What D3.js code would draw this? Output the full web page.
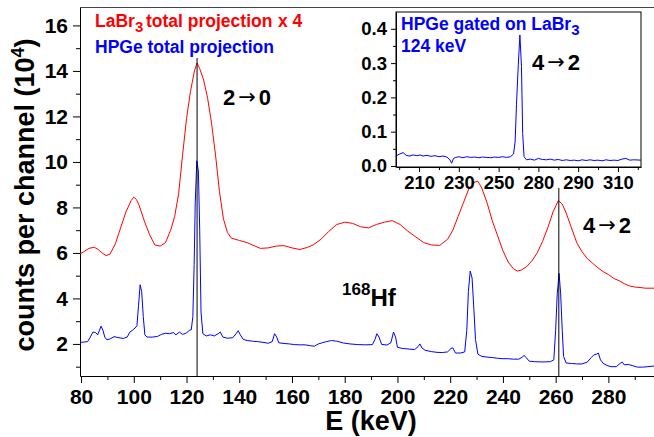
<!DOCTYPE html>
<html>
<head>
<meta charset="utf-8">
<script src="https://cdn.jsdelivr.net/npm/d3@7"></script>
<style>
  body { margin: 0; background: #fff; }
  svg { display: block; font-family: "Liberation Sans", Arial, sans-serif; font-weight: bold; }
</style>
</head>
<body>
<svg id="chart" width="654" height="437"></svg>
<script>
// LaBr3 total projection (x 4), counts in units of 10^4
const labr3Total = [
  [79.6,5.95],[81,6.05],[83,6.2],[85,6.25],[86.5,6.15],[88,6.0],[89.5,5.88],[91,5.95],[93,6.4],[95,7.1],
  [97,7.8],[99,8.3],[100,8.45],[101,8.35],[102,8.1],[104,7.4],[106,6.8],[108,6.35],[110,6.3],[112,6.45],
  [114,7.0],[115.5,7.6],[117,8.6],[118.5,10.3],[120,11.9],[121.5,13.1],[123,14.0],[124,14.35],[125,14.1],
  [126.5,13.6],[128,12.8],[129.5,11.7],[131,10.3],[132.5,8.7],[134,7.5],[135.5,6.9],[137,6.65],[140,6.55],
  [143,6.45],[146,6.3],[148,6.2],[151,6.22],[154,6.3],[157,6.32],[160,6.22],[163,6.15],[166,6.25],[168,6.35],
  [171,6.6],[174,6.95],[177,7.25],[180,7.35],[183,7.3],[186,7.15],[189,7.1],[192,7.25],[195,7.35],[198,7.42],
  [201,7.25],[204,6.95],[207,6.7],[210,6.45],[213,6.35],[216,6.33],[219,6.6],[221,7.0],[223,7.6],[225,8.2],
  [227,8.8],[229,9.1],[230.5,9.15],[232,8.85],[234,8.2],[236,7.4],[238,6.75],[240,6.1],[242,5.6],[244,5.3],
  [245.5,5.2],[247,5.25],[249,5.4],[251,5.65],[253,6.0],[255,6.5],[257,7.1],[259,7.8],[261,8.3],[262.5,8.15],
  [264,7.75],[266,7.1],[268,6.45],[270,6.05],[272,5.75],[274,5.55],[276,5.35],[278,5.18],[280,5.05],[282,4.88],
  [284,4.78],[286,4.65],[288,4.55],[290,4.5],[292,4.48],[294,4.45],[297.3,4.45]
];

// HPGe total projection
const hpgeTotal = [
  [79.6,2.07],[81,2.08],[82.5,2.1],[83.5,2.3],[84.5,2.52],[85.5,2.5],[86.3,2.4],[87,2.6],[87.6,2.78],[88.3,2.6],
  [89,2.3],[89.8,2.18],[91,2.22],[92.5,2.32],[94,2.28],[96,2.24],[97.5,2.3],[98.5,2.52],[99.5,2.6],[100.5,2.7],
  [101.2,2.8],[101.8,3.7],[102.4,4.6],[103,4.3],[103.6,3.2],[104.2,2.4],[105,2.3],[107,2.3],[109,2.33],[110.5,2.42],
  [112,2.47],[113.5,2.45],[115,2.5],[116,2.4],[117.3,2.52],[118.5,2.42],[120,2.48],[121,2.6],[121.8,2.62],[122.4,3.2],
  [122.9,5.5],[123.3,8.2],[123.9,10.05],[124.5,9.6],[125,7.0],[125.5,3.4],[126.2,2.45],[127.5,2.35],[129,2.4],[130.5,2.35],
  [132,2.45],[132.8,2.52],[133.8,2.3],[135.5,2.25],[137.5,2.27],[138.8,2.45],[139.6,2.58],[140.4,2.4],[141.5,2.2],[143,2.15],
  [145,2.12],[147,2.1],[149,2.07],[151,2.03],[152.5,2.1],[153.4,2.45],[154.2,2.3],[155,2.05],[157,2.02],[159,2.0],
  [161,1.97],[163,1.96],[165,1.96],[167,1.92],[168.5,1.9],[170,2.0],[171.5,2.05],[173,2.1],[175,2.15],[177,2.12],
  [179.5,2.04],[182,2.0],[185,1.97],[188,1.96],[190.5,1.97],[191.5,2.2],[192.2,2.45],[193,2.3],[194,1.98],[196,1.95],
  [197.5,2.05],[198.5,2.52],[199.3,2.3],[200,1.85],[202,1.8],[204,1.78],[206.5,1.75],[207.8,1.88],[208.5,2.0],[209.3,1.82],
  [210.5,1.72],[213,1.66],[215,1.63],[217,1.62],[219,1.65],[220.3,1.8],[221,1.83],[222,1.6],[224,1.6],[225.5,1.65],
  [226.3,2.6],[226.9,4.3],[227.6,5.2],[228.3,4.9],[229,3.5],[229.6,2.2],[230.5,1.55],[232,1.45],[234,1.42],[236,1.4],
  [238,1.37],[240,1.35],[242,1.35],[244,1.33],[246,1.33],[247.4,1.42],[248,1.5],[248.8,1.4],[250,1.24],[252,1.22],
  [254,1.21],[256,1.21],[258,1.22],[259.3,1.3],[260,2.6],[260.6,4.2],[261.3,5.1],[261.9,4.2],[262.5,2.6],[263,1.45],
  [264,1.16],[266,1.14],[268,1.12],[270,1.12],[272,1.2],[273.5,1.4],[274.5,1.52],[275.5,1.55],[276.2,1.6],[277,1.3],
  [278,1.15],[279.5,1.05],[281,1.0],[283,1.0],[284.5,1.15],[285.3,1.2],[286,1.08],[287.5,1.1],[289,1.05],[291,0.98],
  [293,0.98],[295,1.0],[297.3,1.03]
];

// HPGe gated on LaBr3 124 keV (inset)
const hpgeGated = [
  [198.6,0.030],[200,0.034],[202,0.039],[203.5,0.031],[205,0.029],[207,0.032],[209,0.030],[210.5,0.032],[212,0.029],
  [214,0.031],[216,0.028],[218,0.030],[220,0.027],[222,0.029],[224,0.026],[225.5,0.018],[226.4,0.008],[227.3,0.022],
  [228.5,0.025],[230,0.027],[232,0.024],[234,0.027],[236,0.025],[238,0.026],[240,0.024],[242,0.026],[244,0.025],
  [246,0.024],[248,0.026],[250,0.025],[252,0.027],[254,0.025],[256,0.027],[257.5,0.035],[258.3,0.07],[259,0.18],
  [259.9,0.295],[260.7,0.382],[261.5,0.29],[262.1,0.095],[262.8,0.027],[264,0.018],[266,0.020],[268,0.017],
  [270,0.022],[272,0.019],[274,0.018],[276,0.020],[278,0.017],[280,0.019],[282,0.016],[284,0.018],[286,0.016],
  [288,0.017],[290,0.015],[292,0.018],[294,0.016],[296,0.018],[298,0.016],[300,0.017],[302,0.015],[304,0.018],
  [306,0.016],[308,0.017],[310,0.016],[312,0.020],[314,0.022],[316,0.017],[318,0.018],[321.5,0.017]
];

const mainXTicks = [80, 100, 120, 140, 160, 180, 200, 220, 240, 260, 280];
const mainXMinor = [90, 110, 130, 150, 170, 190, 210, 230, 250, 270, 290];
const mainYTicks = [2, 4, 6, 8, 10, 12, 14, 16];
const mainYMinor = [1, 3, 5, 7, 9, 11, 13, 15];

const insetXTicks = [210, 230, 250, 270, 290, 310];
const insetXTickLabels = ["210", "230", "250", "280", "290", "310"];
const insetXMinor = [200, 220, 240, 260, 280, 300, 320];
const insetYTicks = [0, 0.1, 0.2, 0.3, 0.4];
const insetYMinor = [0.05, 0.15, 0.25, 0.35];

// transition markers: energy and top of the line
const transitions = [
  { e: 124, top: 14.57 },
  { e: 261.2, top: 8.86 }
];

const RED = "#ff0000";
const BLUE = "#0000ff";

const svg = d3.select("#chart");

const x = d3.scaleLinear().domain([79.6, 297.3]).range([80, 654]);
const y = d3.scaleLinear().domain([0.59, 16.81]).range([376, 7]);

function styleAxis(g, fontSize) {
  g.selectAll("text").attr("font-size", fontSize).attr("font-weight", "bold").attr("fill", "#000")
    .attr("font-family", "'Liberation Sans', Arial, sans-serif");
  g.selectAll("line").attr("stroke", "#000");
  g.select(".domain").attr("stroke", "#000");
}

// main axes
svg.append("g")
  .attr("transform", "translate(0,376)")
  .call(d3.axisBottom(x).tickValues(mainXMinor).tickSize(4).tickFormat("").tickSizeOuter(0))
  .call(g => g.select(".domain").remove())
  .call(g => g.selectAll("line").attr("stroke", "#000"));
svg.append("g")
  .attr("transform", "translate(0,376)")
  .call(d3.axisBottom(x).tickValues(mainXTicks).tickSize(7).tickSizeOuter(0).tickPadding(6))
  .call(g => styleAxis(g, 21));

svg.append("g")
  .attr("transform", "translate(80,0)")
  .call(d3.axisLeft(y).tickValues(mainYMinor).tickSize(4).tickFormat("").tickSizeOuter(0))
  .call(g => g.select(".domain").remove())
  .call(g => g.selectAll("line").attr("stroke", "#000"));
svg.append("g")
  .attr("transform", "translate(80,0)")
  .call(d3.axisLeft(y).tickValues(mainYTicks).tickSize(7).tickSizeOuter(0).tickPadding(5))
  .call(g => styleAxis(g, 21));

svg.append("line")
  .attr("x1", 80).attr("x2", 654).attr("y1", 7.5).attr("y2", 7.5)
  .attr("stroke", "#444");

// spectra
const line = d3.line().x(d => x(d[0])).y(d => y(d[1]));

svg.append("path").datum(labr3Total)
  .attr("d", line).attr("fill", "none").attr("stroke", RED).attr("stroke-width", 1);

svg.append("path").datum(hpgeTotal)
  .attr("d", line).attr("fill", "none").attr("stroke", BLUE).attr("stroke-width", 1);

svg.selectAll(".trans")
  .data(transitions)
  .enter()
  .append("line")
  .attr("x1", d => x(d.e)).attr("x2", d => x(d.e))
  .attr("y1", d => y(d.top)).attr("y2", 376)
  .attr("stroke", "#000").attr("stroke-width", 1);

// axis titles
svg.append("text")
  .attr("transform", "translate(34,195) rotate(-90)")
  .attr("text-anchor", "middle")
  .attr("font-size", 27)
  .html('counts per channel (10<tspan dy="-10" font-size="18">4</tspan><tspan dy="10">)</tspan>');

svg.append("text")
  .attr("x", 371).attr("y", 430)
  .attr("text-anchor", "middle")
  .attr("font-size", 27)
  .text("E (keV)");

// legend texts
const lab = svg.append("text")
  .attr("x", 95).attr("y", 27)
  .attr("font-size", 17.5).attr("fill", RED);
lab.append("tspan").text("LaBr");
lab.append("tspan").attr("dy", 5).attr("font-size", 15).text("3");
lab.append("tspan").attr("dy", -5).attr("x", 146).text("total projection");
lab.append("tspan").attr("x", 278).text("x 4");

svg.append("text")
  .attr("x", 95).attr("y", 53)
  .attr("font-size", 17.5).attr("fill", BLUE)
  .text("HPGe total projection");

function arrowLabel(px, py, a, b) {
  const t = svg.append("text").attr("x", px).attr("y", py).attr("font-size", 22);
  t.append("tspan").text(a);
  t.append("tspan").attr("font-size", 21).attr("dy", -1).attr("dx", 3)
    .attr("font-family", "'DejaVu Sans', sans-serif").attr("font-weight", "normal").text("\u2192");
  t.append("tspan").attr("dy", 1).attr("dx", 3).text(b);
}

arrowLabel(223, 105, "2", "0");
arrowLabel(583, 233, "4", "2");

svg.append("text")
  .attr("x", 342).attr("y", 306)
  .attr("font-size", 24)
  .html('<tspan font-size="17" dy="-11">168</tspan><tspan dy="11">Hf</tspan>');

// inset
const ix = d3.scaleLinear().domain([198.4, 321.6]).range([396, 641]);
const iy = d3.scaleLinear().domain([-0.003, 0.449]).range([167, 12]);

const inset = svg.append("g");
inset.append("rect")
  .attr("x", 396).attr("y", 12).attr("width", 245).attr("height", 155)
  .attr("fill", "#fff").attr("stroke", "#000").attr("stroke-width", 1);

inset.append("g")
  .attr("transform", "translate(0,167)")
  .call(d3.axisBottom(ix).tickValues(insetXMinor).tickSize(3).tickFormat("").tickSizeOuter(0))
  .call(g => g.select(".domain").remove())
  .call(g => g.selectAll("line").attr("stroke", "#000"));
inset.append("g")
  .attr("transform", "translate(0,167)")
  .call(d3.axisBottom(ix).tickValues(insetXTicks).tickSize(5).tickSizeOuter(0).tickPadding(4)
    .tickFormat((d, i) => insetXTickLabels[i]))
  .call(g => styleAxis(g, 18.5));

inset.append("g")
  .attr("transform", "translate(396,0)")
  .call(d3.axisLeft(iy).tickValues(insetYMinor).tickSize(3).tickFormat("").tickSizeOuter(0))
  .call(g => g.select(".domain").remove())
  .call(g => g.selectAll("line").attr("stroke", "#000"));
inset.append("g")
  .attr("transform", "translate(396,0)")
  .call(d3.axisLeft(iy).tickValues(insetYTicks).tickSize(5).tickSizeOuter(0).tickPadding(4)
    .tickFormat(d3.format(".1f")))
  .call(g => styleAxis(g, 18.5));

const iline = d3.line().x(d => ix(d[0])).y(d => iy(d[1]));
inset.append("path").datum(hpgeGated)
  .attr("d", iline).attr("fill", "none").attr("stroke", BLUE).attr("stroke-width", 1);

const gated = inset.append("text")
  .attr("x", 401).attr("y", 30)
  .attr("font-size", 17.5).attr("fill", BLUE);
gated.append("tspan").text("HPGe gated on LaBr");
gated.append("tspan").attr("dy", 5).attr("font-size", 15).text("3");
inset.append("text")
  .attr("x", 401).attr("y", 52)
  .attr("font-size", 17.5).attr("fill", BLUE)
  .text("124 keV");

arrowLabel(532, 70, "4", "2");
</script>
</body>
</html>
